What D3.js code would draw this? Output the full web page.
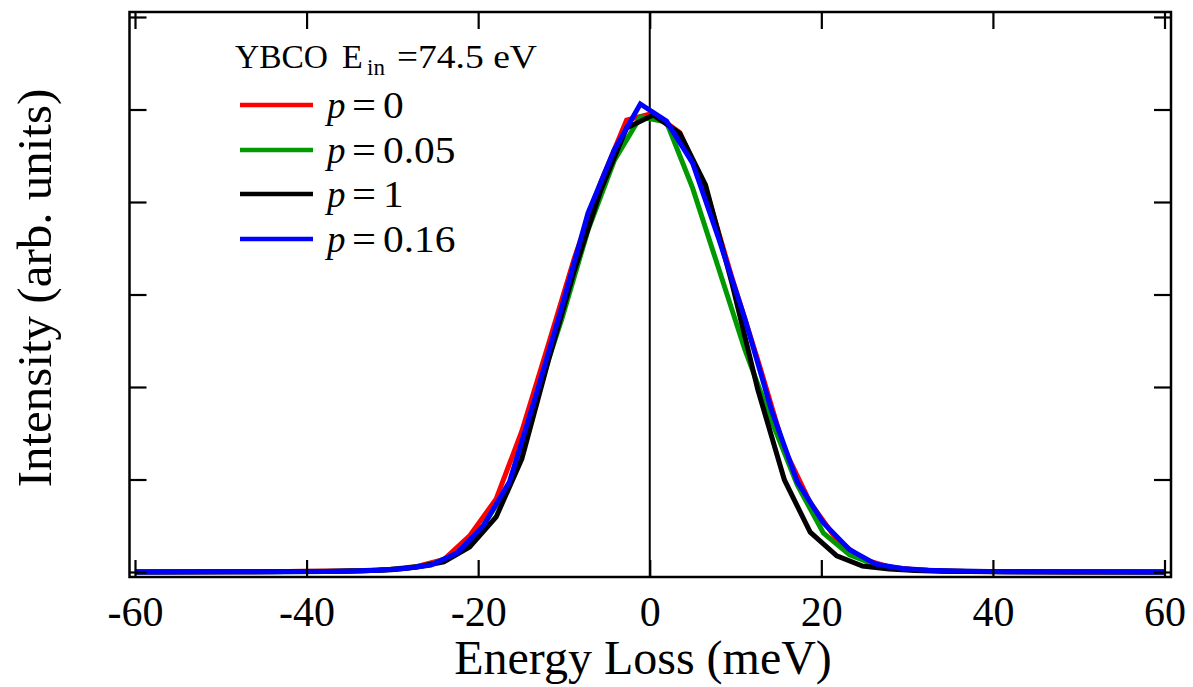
<!DOCTYPE html>
<html>
<head>
<meta charset="utf-8">
<script src="https://cdn.jsdelivr.net/npm/d3@7"></script>
<style>
  html, body { margin: 0; padding: 0; background: #fff; }
  svg { display: block; }
  text { font-family: "Liberation Serif", "Times New Roman", serif; fill: #000; }
</style>
</head>
<body>
<script>
// ---- data ----
const energyA = [-60, -48.4, -42.3, -36.2, -33.2, -30.1, -27.1, -24.0, -21.0, -17.9, -14.9, -11.8, -8.8, -5.7, -2.7, 0.4, 3.5, 6.5, 9.6, 12.6, 15.7, 18.7, 21.8, 24.8, 27.9, 30.9, 34.0, 37.0, 43.1, 49.2, 60];
const energyB = [-60, -49.9, -43.8, -37.7, -34.65, -31.6, -28.55, -25.5, -22.45, -19.4, -16.35, -13.3, -10.25, -7.2, -4.15, -1.1, 1.95, 5.0, 8.05, 11.1, 14.15, 17.2, 20.25, 23.3, 26.35, 29.4, 32.45, 35.5, 41.6, 50.75, 60];

const intensityP0 = [0, 0.0005, 0.001, 0.002, 0.003, 0.006, 0.012, 0.027, 0.078, 0.158, 0.305, 0.493, 0.678, 0.843, 0.977, 0.992, 0.950, 0.830, 0.635, 0.458, 0.265, 0.150, 0.070, 0.028, 0.011, 0.005, 0.0025, 0.0012, 0.0005, 0.0002, 0];
const intensityP005 = [0, 0.0003, 0.0007, 0.001, 0.002, 0.004, 0.008, 0.016, 0.040, 0.100, 0.190, 0.375, 0.547, 0.739, 0.889, 0.984, 0.973, 0.830, 0.655, 0.480, 0.329, 0.188, 0.084, 0.037, 0.015, 0.0065, 0.003, 0.0015, 0.0007, 0.0003, 0];
const intensityP1 = [0, 0.0005, 0.001, 0.0015, 0.0025, 0.005, 0.011, 0.022, 0.054, 0.119, 0.245, 0.458, 0.651, 0.826, 0.960, 0.988, 0.949, 0.837, 0.623, 0.394, 0.199, 0.086, 0.035, 0.013, 0.0065, 0.003, 0.0015, 0.001, 0.0005, 0.0002, 0];
const intensityP016 = [0, 0.0003, 0.0007, 0.001, 0.002, 0.004, 0.0075, 0.015, 0.041, 0.100, 0.195, 0.380, 0.573, 0.776, 0.912, 1.012, 0.975, 0.884, 0.720, 0.547, 0.352, 0.195, 0.106, 0.048, 0.017, 0.0075, 0.0037, 0.002, 0.0008, 0.0003, 0];

const seriesLabels = ["0", "0.05", "1", "0.16"];
const seriesColors = ["#ff0000", "#009a00", "#000000", "#0000ff"];
const xTicks = [-60, -40, -20, 0, 20, 40, 60];
const yTicks = [0, 0.2, 0.4, 0.6, 0.8, 1.0, 1.2];

const series = [
  { label: seriesLabels[0], color: seriesColors[0], e: energyA, v: intensityP0 },
  { label: seriesLabels[1], color: seriesColors[1], e: energyB, v: intensityP005 },
  { label: seriesLabels[2], color: seriesColors[2], e: energyA, v: intensityP1 },
  { label: seriesLabels[3], color: seriesColors[3], e: energyB, v: intensityP016 }
];

// ---- layout ----
const W = 1193, H = 687;
const frame = { left: 129.5, right: 1171, top: 12, bottom: 577 };

const x = d3.scaleLinear().domain([-60, 60]).range([135, 1164.5]);
const y = d3.scaleLinear().domain([0, 1.2]).range([572, 17]);

const svg = d3.select("body").append("svg").attr("width", W).attr("height", H);

// zero line
svg.append("line")
  .attr("x1", x(0)).attr("x2", x(0))
  .attr("y1", frame.top).attr("y2", frame.bottom)
  .attr("stroke", "#000").attr("stroke-width", 2);

// curves
const line = d3.line().x(d => x(d[0])).y(d => y(d[1]));
svg.append("g").selectAll("path").data(series).join("path")
  .attr("d", s => line(s.e.map((e, i) => [e, s.v[i]])))
  .attr("fill", "none")
  .attr("stroke", s => s.color)
  .attr("stroke-width", 5)
  .attr("stroke-linejoin", "miter");

// axes (inward ticks)
const tickLen = 17;
function styleAxis(g) {
  g.select(".domain").remove();
  g.selectAll(".tick line").attr("stroke", "#000").attr("stroke-width", 2.2);
}
svg.append("g").attr("transform", `translate(0,${frame.bottom})`)
  .call(d3.axisBottom(x).tickValues(xTicks).tickSize(-tickLen).tickFormat(d => String(d)))
  .call(styleAxis)
  .call(g => g.selectAll(".tick text")
    .attr("y", 49).attr("dy", null)
    .attr("font-size", 42)
    .attr("font-family", "Liberation Serif, serif")
    .attr("fill", "#000"));
svg.append("g").attr("transform", `translate(0,${frame.top})`)
  .call(d3.axisTop(x).tickValues(xTicks).tickSize(-tickLen).tickFormat(""))
  .call(styleAxis);
svg.append("g").attr("transform", `translate(${frame.left},0)`)
  .call(d3.axisLeft(y).tickValues(yTicks).tickSize(-tickLen).tickFormat(""))
  .call(styleAxis);
svg.append("g").attr("transform", `translate(${frame.right},0)`)
  .call(d3.axisRight(y).tickValues(yTicks).tickSize(-tickLen).tickFormat(""))
  .call(styleAxis);

// frame
svg.append("rect")
  .attr("x", frame.left).attr("y", frame.top)
  .attr("width", frame.right - frame.left).attr("height", frame.bottom - frame.top)
  .attr("fill", "none").attr("stroke", "#000").attr("stroke-width", 2.5);

// axis titles
svg.append("text")
  .attr("x", 643).attr("y", 674)
  .attr("text-anchor", "middle").attr("font-size", 48)
  .text("Energy Loss (meV)");
svg.append("text")
  .attr("transform", "translate(51,288) rotate(-90)")
  .attr("text-anchor", "middle").attr("font-size", 49)
  .text("Intensity (arb. units)");

// legend title: YBCO  E_in =74.5 eV
const lg = svg.append("g").attr("font-size", 34);
lg.append("text").attr("x", 235).attr("y", 68)
  .attr("textLength", 93).attr("lengthAdjust", "spacingAndGlyphs").text("YBCO");
lg.append("text").attr("x", 342).attr("y", 68).text("E");
lg.append("text").attr("x", 367).attr("y", 75).attr("font-size", 23).text("in");
lg.append("text").attr("x", 397).attr("y", 68)
  .attr("textLength", 21).attr("lengthAdjust", "spacingAndGlyphs").text("=");
lg.append("text").attr("x", 418).attr("y", 68)
  .attr("textLength", 119).attr("lengthAdjust", "spacingAndGlyphs").text("74.5 eV");

// legend entries
const rowY = [105, 150, 194, 239];
const leg = svg.append("g").attr("font-size", 37);
series.forEach((s, i) => {
  const by = rowY[i] + 13;
  leg.append("line")
    .attr("x1", 240).attr("x2", 313)
    .attr("y1", rowY[i]).attr("y2", rowY[i])
    .attr("stroke", s.color).attr("stroke-width", 4.5);
  leg.append("text").attr("x", 327).attr("y", by)
    .attr("font-style", "italic").text("p");
  leg.append("text").attr("x", 352).attr("y", by)
    .attr("textLength", 24).attr("lengthAdjust", "spacingAndGlyphs").text("=");
  leg.append("text")
    .attr("transform", `translate(383,${by}) scale(1.12,1)`)
    .text(s.label);
});
</script>
</body>
</html>
